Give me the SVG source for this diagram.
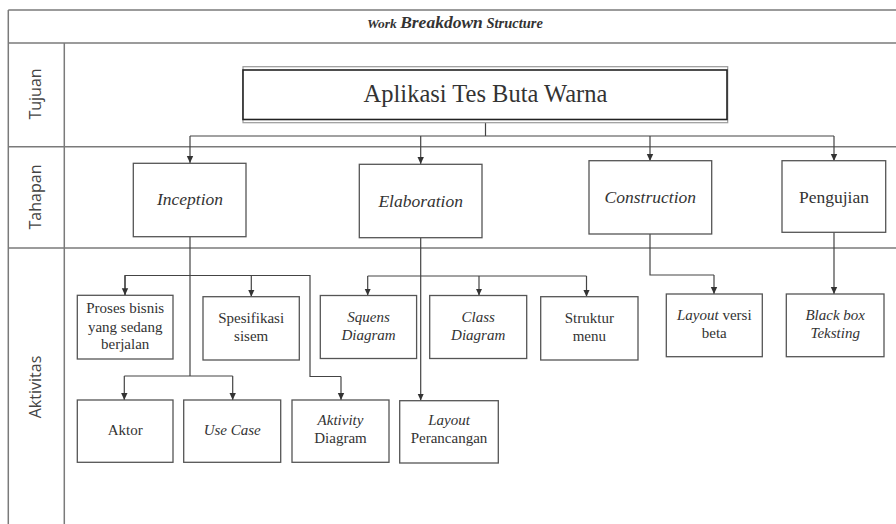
<svg xmlns="http://www.w3.org/2000/svg" width="896" height="524" viewBox="0 0 896 524">
<style>
.grid{stroke:#7a7a7a;stroke-width:1.5;fill:none}
.box{fill:#fff;stroke:#555;stroke-width:1.3}
.lbl{font-family:"Open Sans","Liberation Sans",sans-serif;font-size:16px;fill:#444;text-anchor:middle}
.t{font-family:"Liberation Serif","Times New Roman",serif;fill:#333;text-anchor:middle}
.big{font-size:17.5px}
.sm{font-size:15px}
.i{font-style:italic}
.con{stroke:#444;stroke-width:1.2;fill:none}
.arr{stroke:#444;stroke-width:1.2;fill:none;marker-end:url(#ah)}
</style>
<defs>
<marker id="ah" markerWidth="8" markerHeight="8" refX="7" refY="4" orient="auto" markerUnits="userSpaceOnUse">
<path d="M0,0.8 L7,4 L0,7.2 Z" fill="#333"/>
</marker>
</defs>
<rect width="896" height="524" fill="#fff"/>
<g id="table">
<line class="grid" x1="8.3" y1="10" x2="896" y2="10"/>
<line class="grid" x1="8.3" y1="43" x2="896" y2="43"/>
<line class="grid" x1="8.3" y1="146.7" x2="896" y2="146.7"/>
<line class="grid" x1="8.3" y1="248" x2="896" y2="248"/>
<line class="grid" x1="8.3" y1="10" x2="8.3" y2="524"/>
<line class="grid" x1="64.3" y1="43" x2="64.3" y2="524"/>
<text x="367" y="27.5" font-family="Liberation Serif,serif" font-weight="bold" font-style="italic" fill="#333"><tspan font-size="13.5">Work </tspan><tspan font-size="17.5">Breakdown</tspan><tspan font-size="14.5"> Structure</tspan></text>
<text class="lbl" transform="translate(41,94) rotate(-90)">Tujuan</text>
<text class="lbl" transform="translate(41,197) rotate(-90)">Tahapan</text>
<text class="lbl" transform="translate(41,387) rotate(-90)">Aktivitas</text>
</g>
<g id="connectors">
<line class="con" x1="485.5" y1="122.5" x2="485.5" y2="136"/>
<line class="con" x1="190" y1="136" x2="834" y2="136"/>
<line class="arr" x1="190" y1="136" x2="190" y2="163"/>
<line class="arr" x1="420.7" y1="136" x2="420.7" y2="164"/>
<line class="arr" x1="650" y1="136" x2="650" y2="161"/>
<line class="arr" x1="834" y1="136" x2="834" y2="161"/>
<line class="con" x1="190" y1="237" x2="190" y2="376"/>
<polyline class="con" points="125,295 125,275.5 310,275.5 310,376.5 341,376.5"/>
<line class="arr" x1="125" y1="275.5" x2="125" y2="295.3"/>
<line class="arr" x1="251.3" y1="275.5" x2="251.3" y2="296.7"/>
<line class="arr" x1="341" y1="376.5" x2="341" y2="400"/>
<line class="con" x1="124.3" y1="376" x2="232.7" y2="376"/>
<line class="arr" x1="124.3" y1="376" x2="124.3" y2="400"/>
<line class="arr" x1="232.7" y1="376" x2="232.7" y2="400"/>
<line class="arr" x1="420.7" y1="238" x2="420.7" y2="400.5"/>
<line class="con" x1="367.7" y1="276" x2="586.5" y2="276"/>
<line class="arr" x1="367.7" y1="276" x2="367.7" y2="295.5"/>
<line class="arr" x1="479" y1="276" x2="479" y2="295.5"/>
<line class="arr" x1="586.5" y1="276" x2="586.5" y2="296.7"/>
<polyline class="con" points="650,234 650,275 714,275"/>
<line class="arr" x1="714" y1="275" x2="714" y2="294"/>
<line class="arr" x1="834" y1="232.3" x2="834" y2="294"/>
</g>
<g id="n-aplikasi">
<rect x="243" y="66.7" width="484.7" height="56" fill="#fff" stroke="#999" stroke-width="1.2"/>
<rect x="243" y="70" width="484" height="49.5" fill="#fff" stroke="#222" stroke-width="1.6"/>
<text class="t" x="485.5" y="101.5" font-size="24.5">Aplikasi Tes Buta Warna</text>
</g>
<g id="n-inception">
<rect class="box" x="133.3" y="163.3" width="112.7" height="73.4"/>
<text class="t big i" x="190" y="205">Inception</text>
</g>
<g id="n-elaboration">
<rect class="box" x="359.3" y="164.3" width="122.7" height="73.4"/>
<text class="t big i" x="420.7" y="206.5">Elaboration</text>
</g>
<g id="n-construction">
<rect class="box" x="589" y="160.7" width="122.7" height="73.3"/>
<text class="t big i" x="650.3" y="203">Construction</text>
</g>
<g id="n-pengujian">
<rect class="box" x="782" y="160.7" width="103.7" height="71.6"/>
<text class="t big" x="834" y="202.7">Pengujian</text>
</g>
<g id="n-proses">
<rect class="box" x="77.3" y="295.3" width="95.7" height="63.7"/>
<text class="t sm" x="125.2" y="313.3">Proses bisnis</text>
<text class="t sm" x="125.2" y="331.7">yang sedang</text>
<text class="t sm" x="125.2" y="349.3">berjalan</text>
</g>
<g id="n-spesifikasi">
<rect class="box" x="203" y="296.7" width="96.3" height="63.3"/>
<text class="t sm" x="251.2" y="322.7">Spesifikasi</text>
<text class="t sm" x="251.2" y="341">sisem</text>
</g>
<g id="n-squens">
<rect class="box" x="320.3" y="295.5" width="96.3" height="63"/>
<text class="t sm i" x="368.5" y="321.7">Squens</text>
<text class="t sm i" x="368.5" y="340">Diagram</text>
</g>
<g id="n-class">
<rect class="box" x="429.7" y="295.5" width="97" height="63"/>
<text class="t sm i" x="478.2" y="321.7">Class</text>
<text class="t sm i" x="478.2" y="340">Diagram</text>
</g>
<g id="n-struktur">
<rect class="box" x="540.7" y="296.7" width="97.3" height="63.3"/>
<text class="t sm" x="589.3" y="322.7">Struktur</text>
<text class="t sm" x="589.3" y="341">menu</text>
</g>
<g id="n-layoutbeta">
<rect class="box" x="666.3" y="294" width="96" height="62.7"/>
<text class="t sm" x="714.3" y="320"><tspan font-style="italic">Layout</tspan> versi</text>
<text class="t sm" x="714.3" y="338.3">beta</text>
</g>
<g id="n-blackbox">
<rect class="box" x="786.3" y="294" width="97.7" height="62.7"/>
<text class="t sm i" x="835.2" y="320">Black box</text>
<text class="t sm i" x="835.2" y="338.3">Teksting</text>
</g>
<g id="n-aktor">
<rect class="box" x="77.3" y="400" width="95.7" height="62.3"/>
<text class="t sm" x="125.2" y="435">Aktor</text>
</g>
<g id="n-usecase">
<rect class="box" x="183.7" y="400" width="97" height="62.3"/>
<text class="t sm i" x="232.2" y="435">Use Case</text>
</g>
<g id="n-aktivity">
<rect class="box" x="292" y="400" width="97" height="62.3"/>
<text class="t sm i" x="340.5" y="425">Aktivity</text>
<text class="t sm" x="340.5" y="443.3">Diagram</text>
</g>
<g id="n-layoutperancangan">
<rect class="box" x="399.7" y="400.7" width="98.6" height="62.3"/>
<text class="t sm i" x="449" y="425">Layout</text>
<text class="t sm" x="449" y="443.3">Perancangan</text>
</g>
</svg>
